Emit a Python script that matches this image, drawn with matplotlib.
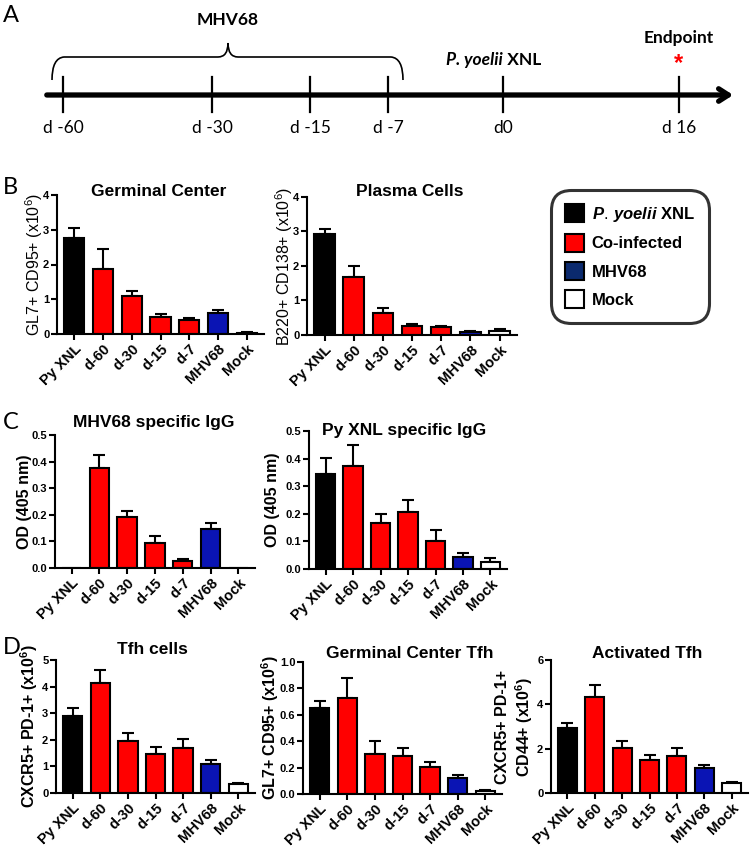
import numpy as np
import matplotlib.pyplot as plt
from matplotlib.patches import Patch, PathPatch
from matplotlib.path import Path

plt.rcParams['font.family'] = ['Liberation Sans', 'DejaVu Sans']
plt.rcParams['mathtext.fontset'] = 'custom'
plt.rcParams['mathtext.it'] = 'Liberation Sans:italic:bold'
plt.rcParams['mathtext.rm'] = 'Liberation Sans'

# ---- data ----
groups = ['Py XNL', 'd-60', 'd-30', 'd-15', 'd-7', 'MHV68', 'Mock']
bar_colors = ['black', '#ff0000', '#ff0000', '#ff0000', '#ff0000', '#0a14b4', 'white']

timeline_labels = ['d -60', 'd -30', 'd -15', 'd -7', 'd0', 'd 16']

gc_b = [2.75, 1.88, 1.08, 0.48, 0.40, 0.60, 0.04]
gc_b_err = [0.30, 0.57, 0.15, 0.10, 0.05, 0.09, 0.02]

plasma = [2.92, 1.68, 0.65, 0.27, 0.23, 0.10, 0.13]
plasma_err = [0.14, 0.33, 0.12, 0.04, 0.04, 0.03, 0.03]

mhv_igg = [0, 0.375, 0.19, 0.095, 0.025, 0.148, 0]
mhv_igg_err = [0, 0.05, 0.025, 0.025, 0.01, 0.023, 0]

py_igg = [0.345, 0.375, 0.167, 0.205, 0.10, 0.045, 0.027]
py_igg_err = [0.057, 0.073, 0.032, 0.046, 0.04, 0.012, 0.013]

tfh = [2.90, 4.15, 1.97, 1.45, 1.68, 1.08, 0.32]
tfh_err = [0.28, 0.47, 0.30, 0.27, 0.35, 0.15, 0.05]

gc_tfh = [0.65, 0.73, 0.30, 0.29, 0.205, 0.125, 0.02]
gc_tfh_err = [0.055, 0.15, 0.105, 0.055, 0.035, 0.02, 0.007]

act_tfh = [2.92, 4.33, 2.05, 1.48, 1.68, 1.15, 0.45]
act_tfh_err = [0.22, 0.55, 0.30, 0.25, 0.33, 0.12, 0.05]

W, H = 750, 850
fig = plt.figure(figsize=(7.5, 8.5), dpi=100)


def box(x0, x1, top, bot):
    return [x0 / W, 1 - bot / H, (x1 - x0) / W, (bot - top) / H]


def ftext(x, y, s, **kw):
    fig.text(x / W, 1 - y / H, s, **kw)


# ---- panel A: timeline (schematic, pixel layout) ----
tick_px = [63, 212, 310, 388, 503, 679]
axA = fig.add_axes([0, 1 - 170 / H, 1, 170 / H])
axA.set_xlim(0, W)
axA.set_ylim(170, 0)
axA.axis('off')
axA.annotate('', xy=(736, 95), xytext=(44, 95),
             arrowprops=dict(arrowstyle='->,head_length=0.7,head_width=0.45', lw=3.8, color='black'))
for xp, lab in zip(tick_px, timeline_labels):
    axA.plot([xp, xp], [77, 112], color='black', lw=1.6)
    axA.text(xp, 128, lab, ha='center', va='center', fontsize=12.5, family='Lato')

# brace over the MHV68 infections
verts = [(52, 80), (52, 58), (64, 57), (218, 57), (228, 57), (228, 43),
         (228, 57), (238, 57), (391, 57), (403, 58), (403, 80)]
codes = [Path.MOVETO, Path.CURVE3, Path.CURVE3, Path.LINETO, Path.CURVE3, Path.CURVE3,
         Path.CURVE3, Path.CURVE3, Path.LINETO, Path.CURVE3, Path.CURVE3]
axA.add_patch(PathPatch(Path(verts, codes), fill=False, lw=1.2, color='black'))
axA.text(228, 20, 'MHV68', ha='center', va='center', fontsize=12.5, fontweight='bold', family='Lato')
t1 = axA.text(446, 60, 'P. yoelii', ha='left', va='center', fontsize=12.5,
              fontweight='bold', fontstyle='italic', family='Lato')
axA.annotate(' XNL', xy=(1, 0), xycoords=t1, ha='left', va='bottom', fontsize=12.5,
             fontweight='bold', family='Lato')
axA.text(679, 38, 'Endpoint', ha='center', va='center', fontsize=12.5, fontweight='bold', family='Lato')
axA.text(679, 64, '*', ha='center', va='center', fontsize=17, fontweight='bold', color='#ff0000')

# ---- panel letters ----
for lab, y in [('A', 15), ('B', 187), ('C', 423), ('D', 647)]:
    ftext(3, y, lab, ha='left', va='center', fontsize=17, family='Lato')


def bars(rect, vals, errs, ylim, yticks, ylabel, label_x, title, title_xy, ybold=True, fmt=None):
    ax = fig.add_axes(box(*rect))
    x = np.arange(len(groups))
    ax.bar(x, vals, width=0.7, color=bar_colors, edgecolor='black', linewidth=1.5, zorder=2)
    vals = np.array(vals)
    errs = np.array(errs)
    m = errs > 0
    ax.errorbar(x[m], vals[m], yerr=[np.zeros(m.sum()), errs[m]], fmt='none',
                ecolor='black', elinewidth=1.5, capsize=4.5, capthick=1.5, zorder=1)
    ax.set_xlim(-0.6, 6.6)
    ax.set_ylim(*ylim)
    ax.set_yticks(yticks)
    if fmt:
        ax.set_yticklabels([fmt.format(v) for v in yticks])
    ax.set_xticks(x)
    ax.set_xticklabels(groups, rotation=45, ha='right', rotation_mode='anchor',
                       fontsize=10.5, fontweight='bold')
    for lbl in ax.get_yticklabels():
        lbl.set_fontweight('bold')
        lbl.set_fontsize(8)
    for s in ['top', 'right']:
        ax.spines[s].set_visible(False)
    for s in ['left', 'bottom']:
        ax.spines[s].set_linewidth(1.5)
    ax.tick_params(axis='both', width=1.5, length=4, direction='out', pad=1.5)
    ax.set_ylabel(ylabel, fontsize=11.5, fontweight='bold' if ybold else 'normal',
                  va='center', linespacing=1.2)
    # put the y label centre at the reference pixel column
    ax.yaxis.set_label_coords((label_x - rect[0]) / (rect[1] - rect[0]), 0.5)
    ax.set_facecolor('none')
    ftext(title_xy[0], title_xy[1], title, ha='center', va='center', fontsize=12.5, fontweight='bold')
    return ax


sup6 = r'(x10$^{\mathregular{6}}$)'

bars((57, 264, 195, 334), gc_b, gc_b_err, (0, 4), [0, 1, 2, 3, 4],
     'GL7+ CD95+ ' + sup6, 34, 'Germinal Center', (159, 192), ybold=False)
bars((307, 517, 197, 335), plasma, plasma_err, (0, 4), [0, 1, 2, 3, 4],
     'B220+ CD138+ ' + sup6, 284, 'Plasma Cells', (410, 192), ybold=False)

bars((55, 255, 435, 568), mhv_igg, mhv_igg_err, (0, 0.5), [0, 0.1, 0.2, 0.3, 0.4, 0.5],
     'OD (405 nm)', 24, 'MHV68 specific IgG', (154, 422), fmt='{:.1f}')
bars((309, 507, 431, 569), py_igg, py_igg_err, (0, 0.5), [0, 0.1, 0.2, 0.3, 0.4, 0.5],
     'OD (405 nm)', 272, 'Py XNL specific IgG', (404, 430), fmt='{:.1f}')

bars((56, 255, 660, 793), tfh, tfh_err, (0, 5), [0, 1, 2, 3, 4, 5],
     'CXCR5+ PD-1+ ' + sup6, 29, 'Tfh cells', (152, 650))
bars((303, 502, 662, 794), gc_tfh, gc_tfh_err, (0, 1.0), [0, 0.2, 0.4, 0.6, 0.8, 1.0],
     'GL7+ CD95+ ' + sup6, 270, 'Germinal Center Tfh', (410, 654), fmt='{:.1f}')
bars((551, 748, 660, 793), act_tfh, act_tfh_err, (0, 6), [0, 2, 4, 6],
     'CXCR5+ PD-1+\nCD44+ ' + sup6, 515, 'Activated Tfh', (647, 654))

# ---- legend ----
leg_labels = [r'$\mathit{P.\,yoelii}$ XNL', 'Co-infected', 'MHV68', 'Mock']
leg_colors = ['black', '#ff0000', '#0b2a6e', 'white']
handles = [Patch(facecolor=c, edgecolor='black', linewidth=1.5) for c in leg_colors]
leg = fig.legend(handles, leg_labels, loc='upper left',
                 bbox_to_anchor=(551 / W, 1 - 190 / H),
                 prop={'weight': 'bold', 'size': 12}, frameon=True, fancybox=True,
                 handlelength=1.1, handleheight=1.3, labelspacing=0.6,
                 handletextpad=0.5, borderpad=0.85, borderaxespad=0)
frame = leg.get_frame()
frame.set_edgecolor('black')
frame.set_linewidth(2.2)
frame.set_boxstyle('round,pad=0,rounding_size=1.2')

fig.savefig('out.png', dpi=100)
